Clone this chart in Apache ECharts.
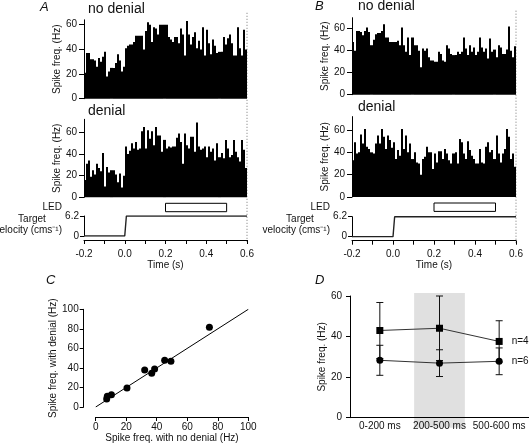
<!DOCTYPE html>
<html><head><meta charset="utf-8">
<script src="https://cdn.jsdelivr.net/npm/echarts@6/dist/echarts.min.js"></script>
<style>html,body{margin:0;padding:0;background:#fff}#c{width:529px;height:444px}</style>
</head><body><div id="c"></div>
<script>
// ---------- data ----------
const binStart = -0.2, binWidth = 0.01; // 10 ms bins from -0.2 s to 0.6 s
const aNoDenial = [21,37,37,32,32,31,26,33,30,34,
  38,18,22,25,25,29,36,31,22,26,
  41,43,44,44,46,51,51,51,51,40,
  55,62,60,46,58,57,52,60,60,60,
  60,50,48,46,50,50,45,57,52,35,
  63,52,44,50,54,41,47,40,58,35,
  56,45,36,48,43,37,38,38,50,44,
  49,52,45,35,35,58,41,35,56,40];
const aDenial = [16,31,34,19,25,21,31,27,24,41,
  10,28,23,25,25,21,14,22,9,20,
  47,40,43,50,45,51,44,45,61,65,
  45,62,54,61,48,65,57,57,42,53,
  45,47,46,47,47,55,59,51,31,59,
  48,45,56,56,42,69,47,44,45,47,
  37,47,42,45,34,50,37,41,36,53,
  45,37,39,53,42,37,33,53,44,27];
const bNoDenial = [48,40,58,58,57,54,58,61,57,45,
  50,55,56,56,58,64,52,52,48,48,
  48,48,49,45,61,45,39,52,36,52,
  45,45,40,25,42,40,42,34,31,31,
  30,30,39,37,31,30,45,42,37,36,
  36,39,37,39,52,42,36,45,39,43,
  36,39,52,43,39,42,33,51,39,41,
  34,45,43,37,37,41,62,40,34,44];
const bDenial = [33,49,39,40,56,48,61,45,43,40,
  39,48,55,48,61,54,43,55,51,44,
  49,34,42,37,61,43,55,40,48,34,
  40,31,30,20,34,36,45,40,40,25,
  39,31,41,41,34,43,39,33,30,39,
  40,30,52,49,39,34,50,42,37,34,
  30,30,43,31,30,45,49,40,42,34,
  55,39,31,39,43,61,54,34,39,27];
const velocityT = [-0.2, 0, 0.008, 0.6];
const velocityV = [0, 0, 6.2, 6.2];
const ledWindow = [0.2, 0.5];
const histTicks = [0, 20, 40, 60];

const scatterNoDenial = [7.2, 7.6, 10.3, 20.5, 32.1, 36.7, 38.6, 45.2, 49.3, 74.5];
const scatterDenial   = [8.2, 10.9, 12.6, 19.5, 37.9, 34.5, 38.9, 47.8, 46.8, 81.6];
const identityLine = [0, 100];

const dCategories = ['0-200 ms', '200-500 ms', '500-600 ms'];
const n4Mean = [43.0, 44.1, 37.6];
const n4Sd   = [13.8, 15.9, 10.2];
const n6Mean = [28.3, 26.9, 27.8];
const n6Sd   = [7.4, 6.6, 6.6];
const shadedCategory = '200-500 ms';

// ---------- helpers ----------
const FONT = 'Liberation Sans, Arial, sans-serif';
const TXT = '#111';

function histSeries(values, gi) {
  return {
    type: 'custom', xAxisIndex: gi, yAxisIndex: gi, clip: false, silent: true,
    data: values.map((v, i) => [binStart + i * binWidth, v]),
    encode: {x: 0, y: 1},
    renderItem: (params, api) => {
      const t = api.value(0), v = api.value(1);
      const p0 = api.coord([t, v]);
      const p1 = api.coord([t + binWidth, 0]);
      const x0 = Math.round(p0[0]), x1 = Math.round(p1[0]);
      return {type: 'rect', shape: {x: x0, y: p0[1], width: x1 - x0, height: p1[1] - p0[1]},
        style: {fill: '#000'}};
    }
  };
}
function hiddenX(gi) {
  return {gridIndex: gi, type: 'value', min: -0.2, max: 0.6, show: false, splitLine: {show: false}};
}
function histY(gi, max, gap) {
  return {gridIndex: gi, type: 'value', min: 0, max: max, interval: 20,
    axisLine: {show: true, onZero: false, lineStyle: {color: '#000', width: 1}},
    axisTick: {show: true, length: 5, customValues: histTicks, lineStyle: {color: '#000'}},
    axisLabel: {customValues: histTicks, margin: 7, fontSize: 10, color: TXT, fontFamily: FONT},
    splitLine: {show: false},
    name: 'Spike freq. (Hz)', nameLocation: 'middle', nameGap: gap,
    nameTextStyle: {fontSize: 10, color: TXT, fontFamily: FONT}};
}
function velX(gi) {
  return {gridIndex: gi, type: 'value', min: -0.2, max: 0.6, interval: 0.2, offset: 4,
    axisLine: {show: true, onZero: false, lineStyle: {color: '#000'}},
    axisTick: {show: true, length: 4, lineStyle: {color: '#000'}},
    minorTick: {show: true, splitNumber: 2, length: 4, lineStyle: {color: '#000'}},
    axisLabel: {margin: 9, fontSize: 10, color: TXT, fontFamily: FONT, formatter: v => v.toFixed(1)},
    splitLine: {show: false}, minorSplitLine: {show: false},
    name: 'Time (s)', nameLocation: 'middle', nameGap: 20,
    nameTextStyle: {fontSize: 10, color: TXT, fontFamily: FONT}};
}
function velY(gi) {
  return {gridIndex: gi, type: 'value', min: 0, max: 6.2, interval: 6.2,
    axisLine: {show: true, onZero: false, lineStyle: {color: '#000'}},
    axisTick: {show: true, length: 4, lineStyle: {color: '#000'}},
    axisLabel: {margin: 5, fontSize: 10, color: TXT, fontFamily: FONT},
    splitLine: {show: false}};
}
function ledY(gi) { return {gridIndex: gi, type: 'value', min: 0, max: 1, show: false, splitLine: {show: false}}; }
function ledSeries(gi) {
  return {type: 'custom', xAxisIndex: gi, yAxisIndex: gi, clip: false, silent: true,
    data: [[ledWindow[0], ledWindow[1]]],
    renderItem: (params, api) => {
      const a = api.coord([api.value(0), 1]);
      const b = api.coord([api.value(1), 0]);
      return {type: 'rect', shape: {x: a[0], y: a[1], width: b[0] - a[0], height: b[1] - a[1]},
        style: {fill: '#fff', stroke: '#000', lineWidth: 1}};
    }};
}
function velSeries(gi) {
  return {type: 'line', xAxisIndex: gi, yAxisIndex: gi, showSymbol: false, silent: true,
    data: velocityT.map((t, i) => [t, velocityV[i]]),
    lineStyle: {color: '#222', width: 1.4}};
}
function errSeries(mean, sd, gi) {
  return {type: 'custom', xAxisIndex: gi, yAxisIndex: gi, silent: true, z: 3,
    data: mean.map((m, i) => [i, m - sd[i], m + sd[i]]),
    renderItem: (params, api) => {
      const lo = api.coord([api.value(0), api.value(1)]);
      const hi = api.coord([api.value(0), api.value(2)]);
      const hw = 3.5, st = {stroke: '#111', lineWidth: 1};
      return {type: 'group', children: [
        {type: 'line', shape: {x1: lo[0], y1: lo[1], x2: hi[0], y2: hi[1]}, style: st},
        {type: 'line', shape: {x1: hi[0] - hw, y1: hi[1], x2: hi[0] + hw, y2: hi[1]}, style: st},
        {type: 'line', shape: {x1: lo[0] - hw, y1: lo[1], x2: lo[0] + hw, y2: lo[1]}, style: st}
      ]};
    }};
}
function meanSeries(mean, symbol, tag) {
  return {type: 'line', xAxisIndex: 9, yAxisIndex: 9, symbol: symbol, symbolSize: 7, silent: true, z: 4,
    itemStyle: {color: '#000', opacity: 1}, lineStyle: {color: '#333', width: 1},
    data: mean.map((m, i) => i === mean.length - 1
      ? {value: m, label: {show: true, position: 'right', distance: 9, formatter: tag,
          fontSize: 10, color: TXT, fontFamily: FONT}}
      : m)};
}

const chart = echarts.init(document.getElementById('c'), null, {renderer: 'canvas'});

const grids = [
  {left: 84, top: 19.8, width: 163, height: 78.9},   // 0 A no denial
  {left: 84, top: 119.3, width: 163, height: 78},    // 1 A denial
  {left: 84, top: 203.3, width: 163, height: 8.4},   // 2 A LED
  {left: 84, top: 216, width: 163, height: 20},      // 3 A velocity
  {left: 352, top: 17.7, width: 164, height: 77},    // 4 B no denial
  {left: 352, top: 116.6, width: 164, height: 80.4}, // 5 B denial
  {left: 352, top: 203, width: 164, height: 8.4},    // 6 B LED
  {left: 352, top: 216.7, width: 164, height: 20},   // 7 B velocity
  {left: 95.7, top: 309.3, width: 152.6, height: 97.7}, // 8 C
  {left: 350, top: 296, width: 183, height: 121.7}   // 9 D
];

const option = {
  animation: false,
  backgroundColor: '#fff',
  textStyle: {fontFamily: FONT},
  grid: grids,
  xAxis: [
    hiddenX(0), hiddenX(1), hiddenX(2), velX(3),
    hiddenX(4), hiddenX(5), hiddenX(6), velX(7),
    {gridIndex: 8, type: 'value', min: 0, max: 100, interval: 20, offset: 10,
      axisLine: {show: true, onZero: false, lineStyle: {color: '#000'}},
      axisTick: {show: true, length: 4, lineStyle: {color: '#000'}},
      axisLabel: {margin: 5, fontSize: 10, color: TXT, fontFamily: FONT},
      splitLine: {show: false},
      name: 'Spike freq. with no denial (Hz)', nameLocation: 'middle', nameGap: 16,
      nameTextStyle: {fontSize: 10, color: TXT, fontFamily: FONT}},
    {gridIndex: 9, type: 'category', data: dCategories, boundaryGap: true,
      axisLine: {show: true, onZero: false, lineStyle: {color: '#000'}},
      axisTick: {show: false},
      axisLabel: {interval: 0, hideOverlap: false, margin: 4, fontSize: 10, color: TXT, fontFamily: FONT},
      splitLine: {show: false}}
  ],
  yAxis: [
    histY(0, 64, 22), histY(1, 72, 22), ledY(2), velY(3),
    histY(4, 70, 19), histY(5, 72, 19), ledY(6), velY(7),
    {gridIndex: 8, type: 'value', min: 0, max: 100, interval: 20, offset: 12,
      axisLine: {show: true, onZero: false, lineStyle: {color: '#000'}},
      axisTick: {show: true, length: 4, lineStyle: {color: '#000'}},
      axisLabel: {margin: 5, fontSize: 10, color: TXT, fontFamily: FONT},
      splitLine: {show: false},
      name: 'Spike freq. with denial (Hz)', nameLocation: 'middle', nameGap: 21,
      nameTextStyle: {fontSize: 10, color: TXT, fontFamily: FONT}},
    {gridIndex: 9, type: 'value', min: 0, max: 60, interval: 20,
      axisLine: {show: true, onZero: false, lineStyle: {color: '#000'}},
      axisTick: {show: true, length: 4, lineStyle: {color: '#000'}},
      axisLabel: {margin: 8, fontSize: 10, color: TXT, fontFamily: FONT},
      splitLine: {show: false},
      name: 'Spike freq. (Hz)', nameLocation: 'middle', nameGap: 19,
      nameTextStyle: {fontSize: 10, color: TXT, fontFamily: FONT}}
  ],
  series: [
    histSeries(aNoDenial, 0), histSeries(aDenial, 1), ledSeries(2), velSeries(3),
    histSeries(bNoDenial, 4), histSeries(bDenial, 5), ledSeries(6), velSeries(7),
    {type: 'line', xAxisIndex: 8, yAxisIndex: 8, showSymbol: false, silent: true,
      data: [[identityLine[0], identityLine[0]], [identityLine[1], identityLine[1]]],
      lineStyle: {color: '#000', width: 1}},
    {type: 'scatter', xAxisIndex: 8, yAxisIndex: 8, symbolSize: 7, silent: true,
      itemStyle: {color: '#000', opacity: 1},
      data: scatterNoDenial.map((x, i) => [x, scatterDenial[i]])},
    {type: 'custom', xAxisIndex: 9, yAxisIndex: 9, clip: false, silent: true, z: -1,
      data: [[dCategories.indexOf(shadedCategory)]],
      renderItem: (params, api) => {
        const i = api.value(0);
        const top = api.coord([i, 60]);
        const bot = api.coord([i, 0]);
        const w = api.size([1, 0])[0] * 0.85;
        return {type: 'rect', shape: {x: top[0] - w / 2, y: top[1] - 3, width: w, height: bot[1] - top[1] + 13},
          style: {fill: '#e0e0e0'}};
      }},
    errSeries(n4Mean, n4Sd, 9), errSeries(n6Mean, n6Sd, 9),
    meanSeries(n4Mean, 'rect', 'n=4'), meanSeries(n6Mean, 'circle', 'n=6')
  ]
};
chart.setOption(option);

// ---------- text and dotted marker line at t = 0.6 ----------
function txt(x, y, s, opts) {
  return Object.assign({type: 'text', x: x, y: y, silent: true,
    style: Object.assign({text: s, fontSize: 10, fontFamily: FONT, fill: TXT, align: 'left', verticalAlign: 'middle'}, opts || {})});
}
const gfx = [];
[[3, 0, 0], [7, 4, 268]].forEach(([velIdx, topIdx, dx]) => {
  const x = chart.convertToPixel({xAxisIndex: velIdx}, 0.6);
  const yTop = chart.convertToPixel({yAxisIndex: topIdx}, option.yAxis[topIdx].max) - 7;
  const yBot = chart.convertToPixel({yAxisIndex: velIdx}, 0) + 6;
  gfx.push({type: 'line', silent: true, shape: {x1: x, y1: yTop, x2: x, y2: yBot},
    style: {stroke: '#777', lineWidth: 1, lineDash: [1, 2]}});
  gfx.push(txt(62 + dx, 207.5, 'LED', {align: 'right'}));
  gfx.push(txt(32 + dx, 219.5, 'Target', {align: 'center'}));
  gfx.push(txt(62 + dx, 230.5, 'velocity (cms⁻¹)', {align: 'right'}));
});
gfx.push(txt(40, 7, 'A', {fontSize: 13, fontStyle: 'italic'}));
gfx.push(txt(315, 6, 'B', {fontSize: 13, fontStyle: 'italic'}));
gfx.push(txt(46, 280, 'C', {fontSize: 13, fontStyle: 'italic'}));
gfx.push(txt(315, 280, 'D', {fontSize: 13, fontStyle: 'italic'}));
gfx.push(txt(88, 9.5, 'no denial', {fontSize: 14}));
gfx.push(txt(88, 111, 'denial', {fontSize: 14}));
gfx.push(txt(358, 6.5, 'no denial', {fontSize: 14}));
gfx.push(txt(358, 107.5, 'denial', {fontSize: 14}));
chart.setOption({graphic: gfx});
</script>
</body></html>
